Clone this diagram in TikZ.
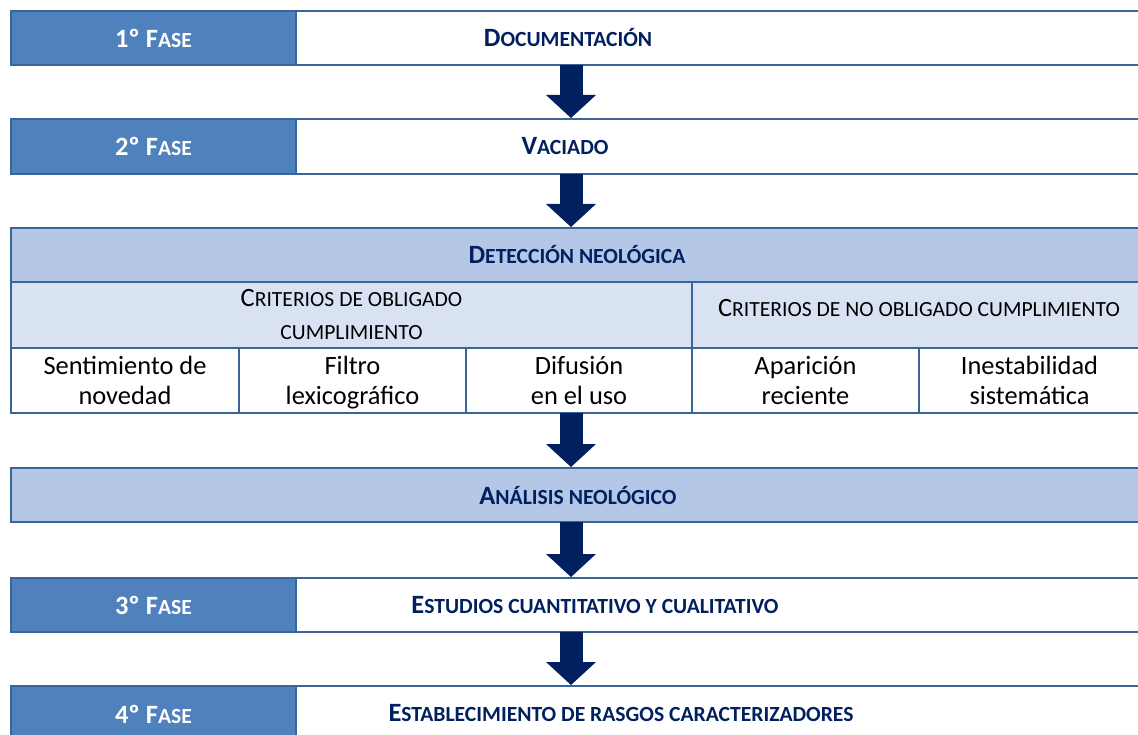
\documentclass[tikz,border=0pt]{standalone}
\usepackage{fontspec}
\setmainfont{Carlito}
\usetikzlibrary{arrows.meta, positioning}
\definecolor{faseazul}{HTML}{4F81BD}
\definecolor{borde}{HTML}{3A659A}
\definecolor{cabecera}{HTML}{B4C7E7}
\definecolor{criterio}{HTML}{D9E2F3}
\definecolor{marino}{HTML}{002060}
\newcommand{\versalita}[2]{#1{\fontsize{21.6}{26}\selectfont #2}}

\begin{document}
\begin{tikzpicture}[x=1pt, y=-1pt,
			every node/.style={font=\fontsize{26.4}{30}\selectfont, inner sep=0pt, outer sep=0pt},
			caja/.style={draw=borde, line width=2pt, anchor=north west},
			fase/.style={caja, fill=faseazul, text=white, font=\bfseries\fontsize{26.4}{30}\selectfont, minimum width=285, minimum height=54},
			blanca/.style={caja, fill=white, minimum width=844, minimum height=54},
			titulo/.style={anchor=base, text=marino, font=\bfseries\fontsize{26.4}{30}\selectfont},
			celda/.style={caja, align=center, minimum height=65, text depth=0pt},
			flecha/.style={marino, line width=23pt, -{Triangle[width=50pt, length=23pt, line width=0pt]}}]
			
			\clip (0,0) rectangle (1138,735);
			\coordinate (ax) at (571,0);
			
			\node[fase] (f1) at (11,11) {1º \versalita{F}{ASE}};
			\node[blanca] (c1) at (296,11) {};
			\node[titulo] (t1) at (568,47) {\versalita{D}{OCUMENTACIÓN}};
			
			\node[fase, minimum height=55] (f2) at (11,119) {2º \versalita{F}{ASE}};
			\node[blanca, minimum height=55] (c2) at (296,119) {};
			\node[titulo] (t2) at (565,155) {\versalita{V}{ACIADO}};
			
			\node[caja, fill=cabecera, minimum width=1129, minimum height=54] (det) at (11,228) {};
			\node[titulo] (t3) at (577,264) {\versalita{D}{ETECCIÓN NEOLÓGICA}};
			\node[caja, fill=criterio, minimum width=681, minimum height=66, align=center, font=\fontsize{26.4}{33}\selectfont] (cr1) at (11,282) {\versalita{C}{RITERIOS DE OBLIGADO}\\\versalita{}{CUMPLIMIENTO}};
			\node[caja, fill=criterio, minimum width=448, minimum height=66] (cr2) at (692,282) {};
			\node[anchor=base] (t4) at (919,317) {\versalita{C}{RITERIOS DE NO OBLIGADO CUMPLIMIENTO}};
			\node[celda, minimum width=228] (b1) at (11,348) {Sentimiento de\\novedad};
			\node[celda, minimum width=227] (b2) at (239,348) {Filtro\\lexicográfico};
			\node[celda, minimum width=226] (b3) at (466,348) {Difusión\\en el uso};
			\node[celda, minimum width=227] (b4) at (692,348) {Aparición\\reciente};
			\node[celda, minimum width=221] (b5) at (919,348) {Inestabilidad\\sistemática};
			
			\node[caja, fill=cabecera, minimum width=1129, minimum height=54] (ana) at (11,468) {};
			\node[titulo] (t5) at (578,504) {\versalita{A}{NÁLISIS NEOLÓGICO}};
			
			\node[fase] (f3) at (11,578) {3º \versalita{F}{ASE}};
			\node[blanca] (c3) at (296,578) {};
			\node[titulo] (t6) at (595,613) {\versalita{E}{STUDIOS CUANTITATIVO Y CUALITATIVO}};
			
			\node[fase, minimum height=56] (f4) at (11,686) {4º \versalita{F}{ASE}};
			\node[blanca, minimum height=56] (c4) at (296,686) {};
			\node[titulo] (t7) at (621,721) {\versalita{E}{STABLECIMIENTO DE RASGOS CARACTERIZADORES}};
			
			\draw[flecha] (c1.south -| ax) -- ([yshift=1pt]c2.north -| ax);
			\draw[flecha] (c2.south -| ax) -- ([yshift=1pt]det.north -| ax);
			\draw[flecha] (b3.south -| ax) -- ([yshift=1pt]ana.north -| ax);
			\draw[flecha] (ana.south -| ax) -- ([yshift=1pt]c3.north -| ax);
			\draw[flecha] (c3.south -| ax) -- ([yshift=1pt]c4.north -| ax);
		\end{tikzpicture}
\end{document}
